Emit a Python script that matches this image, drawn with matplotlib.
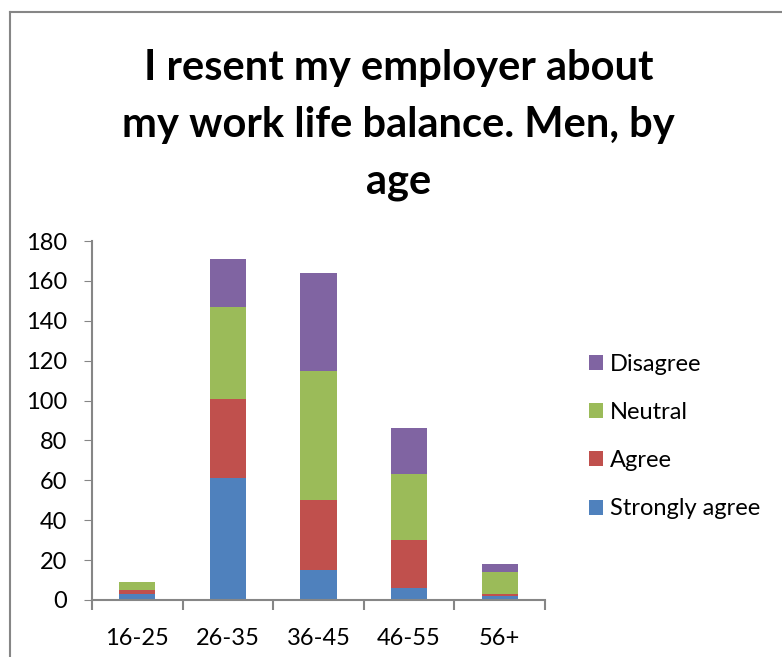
import numpy as np
import matplotlib.pyplot as plt
from matplotlib.lines import Line2D

plt.rcParams['font.family'] = ['Lato', 'DejaVu Sans']

# data
ages = ['16-25', '26-35', '36-45', '46-55', '56+']
strongly_agree = [3, 61, 15, 6, 2]
agree = [2, 40, 35, 24, 1]
neutral = [4, 46, 65, 33, 11]
disagree = [0, 24, 49, 23, 4]

series = [('Strongly agree', strongly_agree, '#4F81BD'),
          ('Agree', agree, '#C0504D'),
          ('Neutral', neutral, '#9BBB59'),
          ('Disagree', disagree, '#8064A2')]

fig = plt.figure(figsize=(7.82, 6.57), dpi=100)
ax = fig.add_axes([92 / 782, 57 / 657, 453 / 782, 359 / 657])

x = np.arange(len(ages))
bottom = np.zeros(len(ages))
handles = []
for name, vals, col in series:
    b = ax.bar(x, vals, width=0.4, bottom=bottom, color=col, label=name)
    bottom += np.array(vals)
    handles.append(b)

ax.set_xlim(-0.5, len(ages) - 0.5)
ax.set_ylim(0, 180)
ax.set_yticks(np.arange(0, 181, 20))
ax.tick_params(axis='y', labelsize=17, length=6, color='#868686', pad=12)
ax.set_xticks(x)
ax.set_xticklabels(ages)
ax.tick_params(axis='x', length=0, labelsize=17, pad=20)
# category boundary ticks
ax.set_xticks(np.arange(-0.5, len(ages), 1), minor=True)
ax.tick_params(axis='x', which='minor', length=7, color='#868686', width=1.5)
for s in ['top', 'right']:
    ax.spines[s].set_visible(False)
for s in ['left', 'bottom']:
    ax.spines[s].set_color('#868686')
    ax.spines[s].set_linewidth(1.5)

ax.legend(handles[::-1], [s[0] for s in series][::-1], loc='center left',
          bbox_to_anchor=(1.05, 0.455), frameon=False, fontsize=17,
          handlelength=0.6, handleheight=0.6, labelspacing=1.15, handletextpad=0.3)

fig.text(0.51, 0.81, 'I resent my employer about\nmy work life balance. Men, by\nage',
         ha='center', va='center', fontsize=30, fontweight='bold', linespacing=1.6)

# outer chart frame
fig.add_artist(Line2D([10 / 782, 10 / 782], [0, 1 - 12 / 657], color='#868686', lw=1.5))
fig.add_artist(Line2D([10 / 782, 1], [1 - 12 / 657, 1 - 12 / 657], color='#868686', lw=1.5))

fig.savefig('out.png', dpi=100)
